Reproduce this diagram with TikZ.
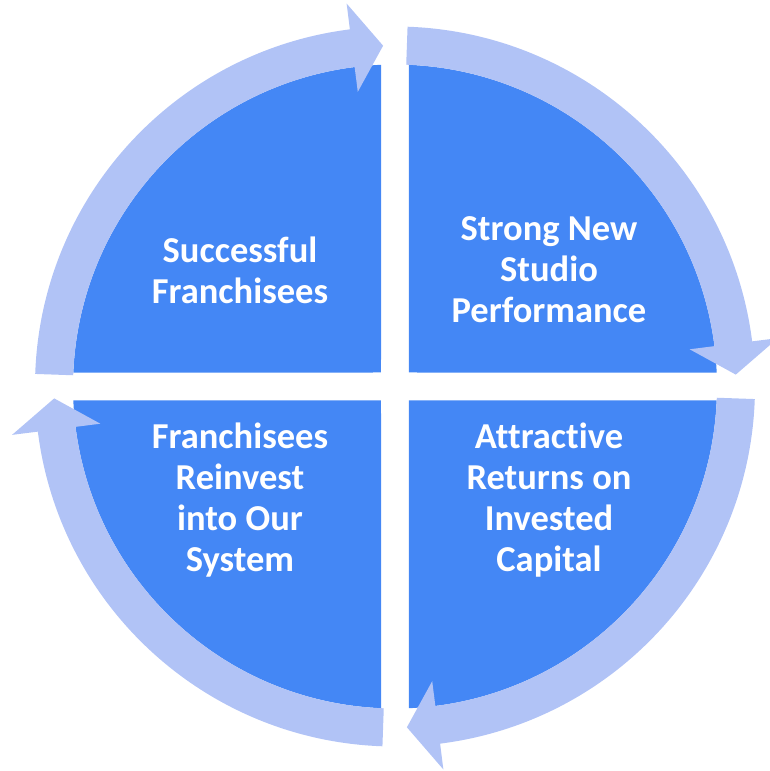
\documentclass[tikz,border=0pt]{standalone}
\usepackage{fontspec}
\setmainfont{Carlito}[Ligatures=NoCommon]
\definecolor{quadblue}{HTML}{4487F5}
\definecolor{ringblue}{HTML}{B1C3F6}
\begin{document}
\begin{tikzpicture}[x=1pt, y=1pt, line join=round,
	quad/.style={fill=quadblue},
	ring/.style={fill=ringblue},
	label/.style={text=white, align=center, font=\fontsize{36.5}{41}\selectfont\bfseries}]
	\def\rq{322}   % quarter radius
	\def\ri{322} \def\ro{360} \def\rm{341}
	\def\hi{297} \def\ho{386}
	\useasboundingbox (-395,-384.5) rectangle (374,386.5);
	% four quarters, gap 28
	\foreach \r in {0,-90,-180,-270}{
		\fill[quad, rotate=\r] (14,14) -- (87.51:\rq) arc[start angle=87.51, end angle=2.49, radius=\rq] -- cycle;
	}
	% ring arrows, clockwise
	\foreach \r in {0,-90,-180,-270}{
		\fill[ring, rotate=\r] (88:\ro) arc[start angle=88, end angle=7.2, radius=\ro]
			-- (7.2:\ho) -- (2:\rm) -- (7.2:\hi) -- (7.2:\ri)
			arc[start angle=7.2, end angle=88, radius=\ri] -- cycle;
	}
	\node[label] (success) at (-155,116.5) {Successful\\Franchisees};
	\node[label] (studio) at (154,116.5) {Strong New\\Studio\\Performance};
	\node[label] (returns) at (154,-113.5) {Attractive\\Returns on\\Invested\\Capital};
	\node[label] (reinvest) at (-155,-113.5) {Franchisees\\Reinvest\\into Our\\System};
\end{tikzpicture}
\end{document}
